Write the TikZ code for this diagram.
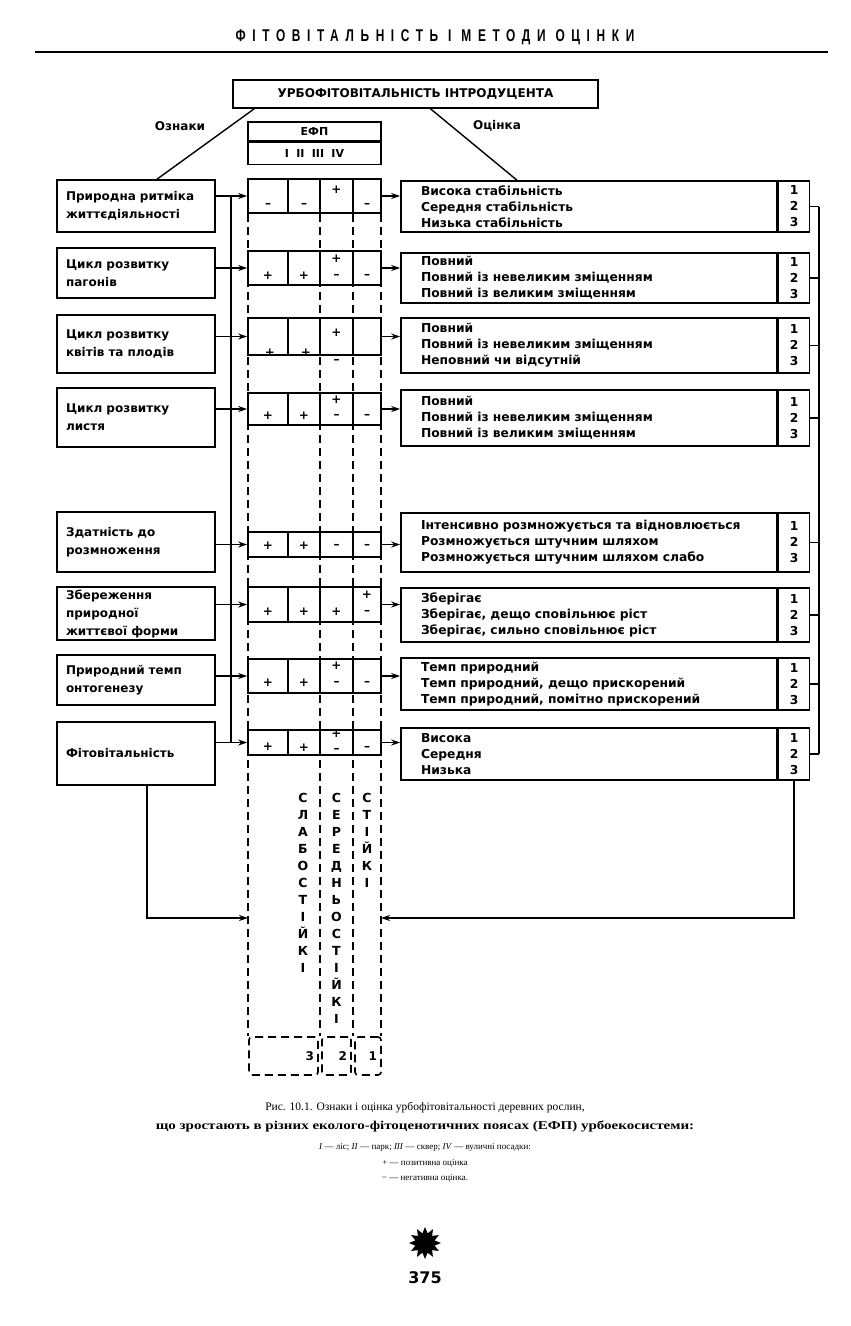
\documentclass[tikz,border=0pt]{standalone}
\usepackage{fontspec}
\setmainfont{DejaVu Sans}
\newfontfamily\capfont{Liberation Serif}
\newfontfamily\capwide[FakeStretch=1.25]{Liberation Serif}
\newfontfamily\headfont[FakeStretch=0.7,LetterSpace=39]{Liberation Sans}
\usepackage{tikz}
\usetikzlibrary{arrows.meta, positioning, shapes.geometric, backgrounds}
\tikzstyle{sign} = [rectangle, draw=black, line width=1.6pt, fill=white, text width=140pt, align=left, inner xsep=9pt, inner ysep=0pt, font=\bfseries\fontsize{12}{18}\selectfont]
\tikzstyle{score} = [rectangle, draw=black, line width=1.6pt, fill=white, minimum width=133pt, inner sep=0pt]
\tikzstyle{rate} = [rectangle, draw=black, line width=1.6pt, fill=white, text width=336pt, align=left, inner xsep=20pt, inner ysep=0pt, font=\bfseries\fontsize{12.3}{16}\selectfont]
\tikzstyle{num} = [rectangle, draw=black, line width=1.6pt, fill=white, minimum width=31pt, align=center, inner sep=0pt, anchor=west, font=\bfseries\fontsize{12.3}{16}\selectfont]
\tikzstyle{pm} = [inner sep=0pt, font=\bfseries\fontsize{12}{12}\selectfont]
\tikzstyle{link} = [line width=1.4pt]
\tikzstyle{arrow} = [line width=1.4pt, -{Stealth[length=9pt, width=6pt]}]
\tikzstyle{zone} = [line width=1.6pt, dash pattern=on 8pt off 5pt]
\tikzstyle{zonebox} = [zone, draw, rounded corners=3pt, minimum height=38pt, align=right, inner xsep=4pt, font=\bfseries\fontsize{12}{12}\selectfont]
\tikzstyle{vword} = [anchor=north, align=center, inner sep=0pt, font=\bfseries\fontsize{12.5}{17}\selectfont]

\begin{document}
\begin{tikzpicture}[x=1pt, y=-1pt]
  \path[use as bounding box] (0,0) rectangle (851,1326);

  % Заголовок сторінки
  \node[font=\headfont\bfseries\fontsize{17}{17}\selectfont] (head) at (435,37) {ФІТОВІТАЛЬНІСТЬ І МЕТОДИ ОЦІНКИ};
  \draw[line width=1.5pt] (35,52) -- (828,52);

  % Верх
  \node[rectangle, draw, line width=1.6pt, minimum width=365pt, minimum height=28pt, font=\bfseries\fontsize{12}{12}\selectfont] (top) at (415.5,94) {УРБОФІТОВІТАЛЬНІСТЬ ІНТРОДУЦЕНТА};
  \node[font=\bfseries\fontsize{12}{12}\selectfont] (lsign) at (180,126) {Ознаки};
  \node[font=\bfseries\fontsize{12}{12}\selectfont] (lrate) at (497,126) {Оцінка};
  \node[score, minimum height=19pt, font=\bfseries\fontsize{11}{11}\selectfont] (efp) at (314.5,131.5) {ЕФП};
  \node[score, minimum height=22pt, anchor=north, font=\bfseries\fontsize{11}{11}\selectfont] (belts) at (efp.south) {I\enspace\,II\enspace\,III\enspace\,IV};

  % Ознаки (ліворуч)
  \node[sign, minimum height=52pt] (s1) at (136,206) {Природна ритміка\\життєдіяльності};
  \node[sign, minimum height=50pt] (s2) at (136,273) {Цикл розвитку\\пагонів};
  \node[sign, minimum height=58pt] (s3) at (136,344) {Цикл розвитку\\квітів та плодів};
  \node[sign, minimum height=59pt] (s4) at (136,417.5) {Цикл розвитку\\листя};
  \node[sign, minimum height=60pt] (s5) at (136,542) {Здатність до\\розмноження};
  \node[sign, minimum height=53pt] (s6) at (136,613.5) {Збереження\\природної\\життєвої форми};
  \node[sign, minimum height=50pt] (s7) at (136,680) {Природний темп\\онтогенезу};
  \node[sign, minimum height=63pt] (s8) at (136,753.5) {Фітовітальність};

  % Оцінки по ЕФП
  \foreach \i/\y/\h in {1/196/34, 2/268/34, 3/336.5/37, 4/409/32, 5/544.5/25, 6/604.5/35, 7/676/34, 8/742.5/25}
    \node[score, minimum height=\h pt] (c\i) at (314.5,\y) {};
  \foreach \i in {1,...,8}
    \foreach \x in {288,320,353}
      \draw[line width=1.6pt] (c\i.north -| \x,0) -- (c\i.south -| \x,0);
  \foreach \x/\y/\s [count=\k] in {268/205/–, 304/205/–, 336.5/190/+, 367/205/–,
      268/276/+, 304/276/+, 336.5/259/+, 336.5/276/–, 367/276/–,
      270/353/+, 306/353/+, 336.5/333/+, 336.5/361/–,
      268/416/+, 304/416/+, 336.5/400/+, 336.5/416/–, 367/416/–,
      268/546/+, 304/546/+, 336.5/546/–, 367/546/–,
      268/612/+, 304/612/+, 336.5/612/+, 367/595/+, 367/612/–,
      268/683/+, 304/683/+, 336.5/666/+, 336.5/683/–, 367/683/–,
      268/747/+, 304/748/+, 336.5/734/+, 336.5/750/–, 367/748/–}
    \node[pm] (m\k) at (\x,\y) {\s};

  % Шкала оцінки (праворуч)
  \node[rate, minimum height=51pt] (r1) at (589,206.5) {Висока стабільність\\Середня стабільність\\Низька стабільність};
  \node[num, minimum height=51pt] (n1) at (r1.east) {1\\2\\3};
  \node[rate, minimum height=50pt] (r2) at (589,278) {Повний\\Повний із невеликим зміщенням\\Повний із великим зміщенням};
  \node[num, minimum height=50pt] (n2) at (r2.east) {1\\2\\3};
  \node[rate, minimum height=55pt] (r3) at (589,345.5) {Повний\\Повний із невеликим зміщенням\\Неповний чи відсутній};
  \node[num, minimum height=55pt] (n3) at (r3.east) {1\\2\\3};
  \node[rate, minimum height=56pt] (r4) at (589,418) {Повний\\Повний із невеликим зміщенням\\Повний із великим зміщенням};
  \node[num, minimum height=56pt] (n4) at (r4.east) {1\\2\\3};
  \node[rate, minimum height=59pt] (r5) at (589,542.5) {Інтенсивно розмножується та відновлюється\\Розмножується штучним шляхом\\Розмножується штучним шляхом слабо};
  \node[num, minimum height=59pt] (n5) at (r5.east) {1\\2\\3};
  \node[rate, minimum height=54pt] (r6) at (589,615) {Зберігає\\Зберігає, дещо сповільнює ріст\\Зберігає, сильно сповільнює ріст};
  \node[num, minimum height=54pt] (n6) at (r6.east) {1\\2\\3};
  \node[rate, minimum height=52pt] (r7) at (589,684) {Темп природний\\Темп природний, дещо прискорений\\Темп природний, помітно прискорений};
  \node[num, minimum height=52pt] (n7) at (r7.east) {1\\2\\3};
  \node[rate, minimum height=52pt] (r8) at (589,754) {Висока\\Середня\\Низька};
  \node[num, minimum height=52pt] (n8) at (r8.east) {1\\2\\3};

  % Групи стійкості
  \node[zonebox, minimum width=69pt, text width=61pt] (b3) at (283.5,1056) {3};
  \node[zonebox, minimum width=29pt, text width=21pt] (b2) at (336.5,1056) {2};
  \node[zonebox, minimum width=26pt, text width=18pt] (b1) at (368,1056) {1};
  \node[vword] (weak) at (303,793) {С\\Л\\А\\Б\\О\\С\\Т\\І\\Й\\К\\І};
  \node[vword] (mid) at (336.5,793) {С\\Е\\Р\\Е\\Д\\Н\\Ь\\О\\С\\Т\\І\\Й\\К\\І};
  \node[vword] (firm) at (367,793) {С\\Т\\І\\Й\\К\\І};
  \coordinate (zL) at (248,918);
  \coordinate (zR) at (381,918);
  \coordinate (lbus) at (231,0);
  \coordinate (rbus) at (819,0);

  \begin{scope}[on background layer]
    \fill[white] (0,0) rectangle (851,1326);
    \foreach \x in {248,320,353,381}
      \draw[zone] (c1.south -| \x,0) -- (b3.north -| \x,0);
  \end{scope}

  % Зв'язки
  \draw[link] ([xshift=22pt]top.south west) -- ([xshift=21pt]s1.north);
  \draw[link] ([xshift=15pt]top.south) -- ([xshift=-72pt]r1.north);
  \draw[link] (c1.west -| lbus) -- (c8.west -| lbus);
  \draw[link] (n1.east -| rbus) -- (n8.east -| rbus);
  \foreach \i in {1,...,8} {
    \draw[arrow] (s\i.east |- c\i.west) -- (c\i.west);
    \draw[arrow] (c\i.east) -- (r\i.west |- c\i.east);
    \draw[link] (n\i.east) -- (n\i.east -| rbus);
  }
  \draw[arrow] ([xshift=11pt]s8.south) |- (zL);
  \draw[arrow] (n8.south) |- (zR);

  % Підпис
  \node[font=\capfont\fontsize{11.5}{17}\selectfont] (cap) at (425,1108) {Рис. 10.1. Ознаки і оцінка урбофітовітальності деревних рослин,};
  \node[font=\capwide\bfseries\fontsize{12}{17}\selectfont] (cap2) at (425,1126) {що зростають в різних еколого-фітоценотичних поясах (ЕФП) урбоекосистеми:};
  \node[font=\capfont\fontsize{9}{15.5}\selectfont, align=center] (legend) at (425,1163) {\textit{I} — ліс; \textit{II} — парк; \textit{III} — сквер; \textit{IV} — вуличні посадки:\\+ — позитивна оцінка\\− — негативна оцінка.};
  \node[star, star points=12, star point ratio=1.6, fill=black, minimum size=32pt, inner sep=0pt] (orn) at (425,1243) {};
  \node[font=\bfseries\fontsize{16}{16}\selectfont] (page) at (425,1278) {375};
\end{tikzpicture}
\end{document}
